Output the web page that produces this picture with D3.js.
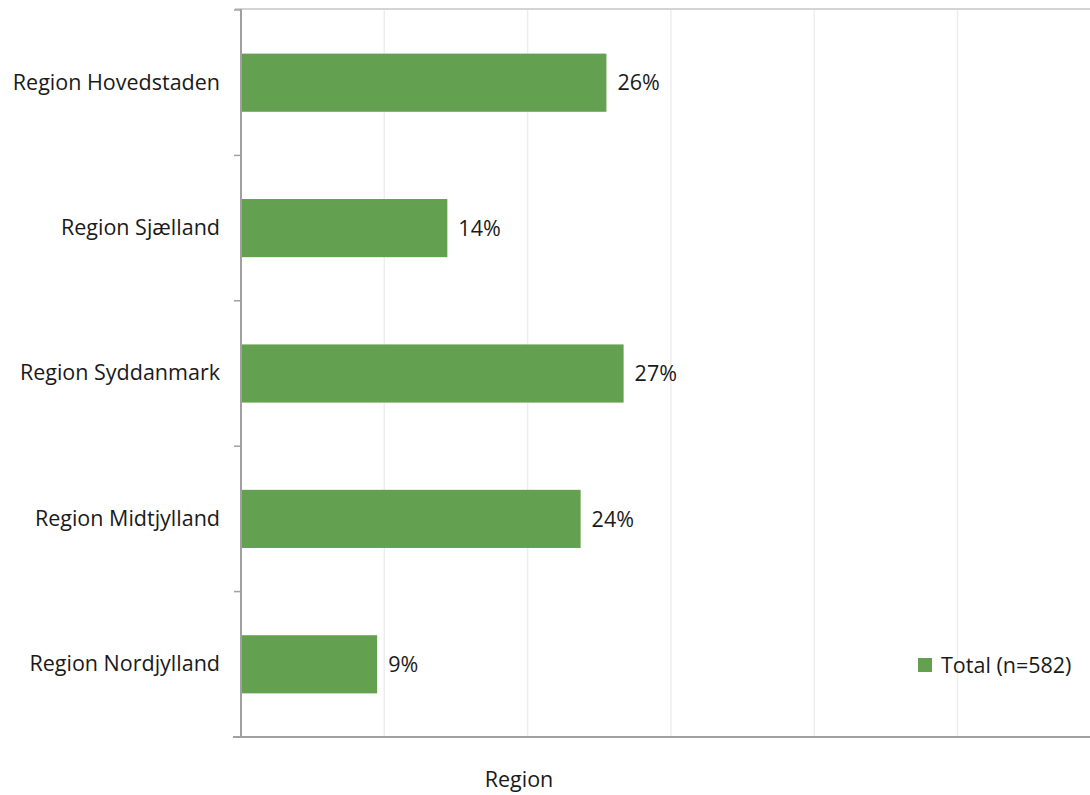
<!DOCTYPE html>
<html>
<head>
<meta charset="utf-8">
<script src="https://cdn.jsdelivr.net/npm/d3@7"></script>
<style>
html,body{margin:0;padding:0;background:#fff;}
svg{display:block;}
text{font-family:"Open Sans",Lato,sans-serif;fill:#1a1a1a;}
</style>
</head>
<body>
<svg id="chart" width="1090" height="795"></svg>
<script>
const categories = ["Region Hovedstaden","Region Sjælland","Region Syddanmark","Region Midtjylland","Region Nordjylland"];
const values = [0.255, 0.144, 0.267, 0.237, 0.095];
const valueLabels = ["26%","14%","27%","24%","9%"];
const gridTicks = [0.1, 0.2, 0.3, 0.4, 0.5];
const seriesName = "Total (n=582)";
const axisTitle = "Region";

const FONT = "'Open Sans', Lato, sans-serif";
const FS = 21.5;
const svg = d3.select("#chart");
const plotLeft = 241, plotTop = 10, plotBottom = 737;
const x = d3.scaleLinear().domain([0, 0.6]).range([plotLeft, plotLeft + 6 * 143.3]);
const y = d3.scaleBand().domain(categories).range([plotTop, plotBottom]).paddingInner(0.6).paddingOuter(0.3);
const yOuter = d3.scaleBand().domain(categories).range([plotTop, plotBottom]);

// gridlines
svg.append("g").selectAll("line").data(gridTicks).join("line")
  .attr("x1", d => x(d)).attr("x2", d => x(d))
  .attr("y1", plotTop).attr("y2", plotBottom)
  .attr("stroke", "#ededed").attr("stroke-width", 1.5);

// top border
svg.append("line").attr("x1", 235).attr("x2", 1090).attr("y1", 9).attr("y2", 9)
  .attr("stroke", "#c6c6c6").attr("stroke-width", 1.5);

// bars
svg.append("g").selectAll("rect").data(categories).join("rect")
  .attr("x", x(0) + 1)
  .attr("y", d => y(d))
  .attr("width", (d, i) => x(values[i]) - x(0) - 1)
  .attr("height", y.bandwidth())
  .attr("fill", "#63a150");

// value labels
svg.append("g").selectAll("text").data(categories).join("text")
  .attr("x", (d, i) => x(values[i]) + 11)
  .attr("y", d => y(d) + y.bandwidth() / 2)
  .attr("dy", "0.36em")
  .attr("font-size", FS)
  .text((d, i) => valueLabels[i]);

// y axis
const yAxis = d3.axisLeft(yOuter).tickSize(0).tickPadding(21);
const gy = svg.append("g").attr("transform", `translate(${plotLeft},0)`).call(yAxis);
gy.select(".domain").remove();
gy.selectAll("text").attr("font-size", FS).attr("fill", "#1a1a1a")
  .style("font-family", FONT);

// category separator ticks
const bounds = categories.map(c => yOuter(c)).concat([plotBottom]);
svg.append("g").selectAll("line").data(bounds).join("line")
  .attr("x1", plotLeft - 7).attr("x2", plotLeft)
  .attr("y1", d => d).attr("y2", d => d)
  .attr("stroke", "#a0a0a0").attr("stroke-width", 1.5);

// axis lines
svg.append("line").attr("x1", plotLeft).attr("x2", plotLeft).attr("y1", plotTop - 1).attr("y2", plotBottom + 1)
  .attr("stroke", "#a0a0a0").attr("stroke-width", 2);
svg.append("line").attr("x1", 233).attr("x2", 1090).attr("y1", plotBottom).attr("y2", plotBottom)
  .attr("stroke", "#a0a0a0").attr("stroke-width", 2);

// axis title
svg.append("text").attr("x", 519).attr("y", 787).attr("text-anchor", "middle")
  .attr("font-size", FS).text(axisTitle);

// legend
svg.append("rect").attr("x", 918).attr("y", 658).attr("width", 14).attr("height", 14).attr("fill", "#63a150");
svg.append("text").attr("x", 941).attr("y", 665).attr("dy", "0.36em").attr("font-size", FS).text(seriesName);
</script>
</body>
</html>
